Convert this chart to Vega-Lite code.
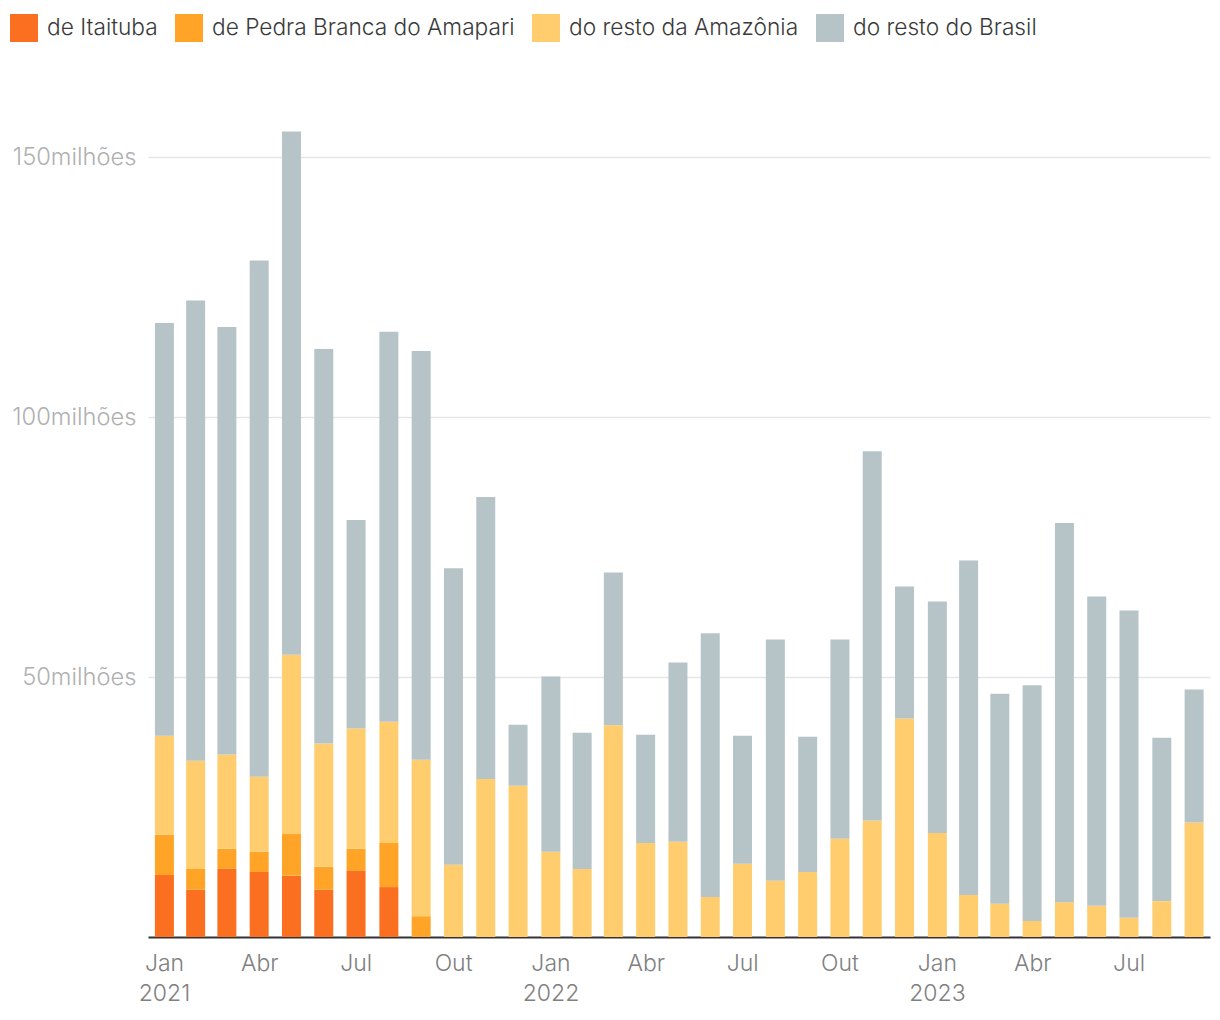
{
  "$schema": "https://vega.github.io/schema/vega-lite/v6.json",
  "width": 1062,
  "height": 832,
  "autosize": {"type": "none"},
  "padding": {"left": 148, "top": 105, "right": 10, "bottom": 83},
  "background": "white",
  "config": {
    "view": {"stroke": null},
    "font": "Inter",
    "axis": {"labelFont": "Inter", "titleFont": "Inter"},
    "legend": {"labelFont": "Inter"}
  },
  "datasets": {
    "ouro": [
      {"mes": "2021-01-01", "origem": "de Itaituba", "valor": 11900000},
      {"mes": "2021-01-01", "origem": "de Pedra Branca do Amapari", "valor": 7800000},
      {"mes": "2021-01-01", "origem": "do resto da Amazônia", "valor": 19000000},
      {"mes": "2021-01-01", "origem": "do resto do Brasil", "valor": 79400000},
      {"mes": "2021-02-01", "origem": "de Itaituba", "valor": 9100000},
      {"mes": "2021-02-01", "origem": "de Pedra Branca do Amapari", "valor": 4000000},
      {"mes": "2021-02-01", "origem": "do resto da Amazônia", "valor": 20800000},
      {"mes": "2021-02-01", "origem": "do resto do Brasil", "valor": 88500000},
      {"mes": "2021-03-01", "origem": "de Itaituba", "valor": 13100000},
      {"mes": "2021-03-01", "origem": "de Pedra Branca do Amapari", "valor": 3900000},
      {"mes": "2021-03-01", "origem": "do resto da Amazônia", "valor": 18100000},
      {"mes": "2021-03-01", "origem": "do resto do Brasil", "valor": 82200000},
      {"mes": "2021-04-01", "origem": "de Itaituba", "valor": 12500000},
      {"mes": "2021-04-01", "origem": "de Pedra Branca do Amapari", "valor": 3900000},
      {"mes": "2021-04-01", "origem": "do resto da Amazônia", "valor": 14400000},
      {"mes": "2021-04-01", "origem": "do resto do Brasil", "valor": 99300000},
      {"mes": "2021-05-01", "origem": "de Itaituba", "valor": 11800000},
      {"mes": "2021-05-01", "origem": "de Pedra Branca do Amapari", "valor": 8000000},
      {"mes": "2021-05-01", "origem": "do resto da Amazônia", "valor": 34500000},
      {"mes": "2021-05-01", "origem": "do resto do Brasil", "valor": 100600000},
      {"mes": "2021-06-01", "origem": "de Itaituba", "valor": 9100000},
      {"mes": "2021-06-01", "origem": "de Pedra Branca do Amapari", "valor": 4400000},
      {"mes": "2021-06-01", "origem": "do resto da Amazônia", "valor": 23700000},
      {"mes": "2021-06-01", "origem": "do resto do Brasil", "valor": 75900000},
      {"mes": "2021-07-01", "origem": "de Itaituba", "valor": 12700000},
      {"mes": "2021-07-01", "origem": "de Pedra Branca do Amapari", "valor": 4300000},
      {"mes": "2021-07-01", "origem": "do resto da Amazônia", "valor": 23100000},
      {"mes": "2021-07-01", "origem": "do resto do Brasil", "valor": 40100000},
      {"mes": "2021-08-01", "origem": "de Itaituba", "valor": 9600000},
      {"mes": "2021-08-01", "origem": "de Pedra Branca do Amapari", "valor": 8500000},
      {"mes": "2021-08-01", "origem": "do resto da Amazônia", "valor": 23300000},
      {"mes": "2021-08-01", "origem": "do resto do Brasil", "valor": 75000000},
      {"mes": "2021-09-01", "origem": "de Pedra Branca do Amapari", "valor": 4000000},
      {"mes": "2021-09-01", "origem": "do resto da Amazônia", "valor": 30100000},
      {"mes": "2021-09-01", "origem": "do resto do Brasil", "valor": 78600000},
      {"mes": "2021-10-01", "origem": "do resto da Amazônia", "valor": 13900000},
      {"mes": "2021-10-01", "origem": "do resto do Brasil", "valor": 57000000},
      {"mes": "2021-11-01", "origem": "do resto da Amazônia", "valor": 30400000},
      {"mes": "2021-11-01", "origem": "do resto do Brasil", "valor": 54200000},
      {"mes": "2021-12-01", "origem": "do resto da Amazônia", "valor": 29100000},
      {"mes": "2021-12-01", "origem": "do resto do Brasil", "valor": 11700000},
      {"mes": "2022-01-01", "origem": "do resto da Amazônia", "valor": 16400000},
      {"mes": "2022-01-01", "origem": "do resto do Brasil", "valor": 33700000},
      {"mes": "2022-02-01", "origem": "do resto da Amazônia", "valor": 13100000},
      {"mes": "2022-02-01", "origem": "do resto do Brasil", "valor": 26200000},
      {"mes": "2022-03-01", "origem": "do resto da Amazônia", "valor": 40700000},
      {"mes": "2022-03-01", "origem": "do resto do Brasil", "valor": 29400000},
      {"mes": "2022-04-01", "origem": "do resto da Amazônia", "valor": 18100000},
      {"mes": "2022-04-01", "origem": "do resto do Brasil", "valor": 20800000},
      {"mes": "2022-05-01", "origem": "do resto da Amazônia", "valor": 18300000},
      {"mes": "2022-05-01", "origem": "do resto do Brasil", "valor": 34500000},
      {"mes": "2022-06-01", "origem": "do resto da Amazônia", "valor": 7700000},
      {"mes": "2022-06-01", "origem": "do resto do Brasil", "valor": 50700000},
      {"mes": "2022-07-01", "origem": "do resto da Amazônia", "valor": 14100000},
      {"mes": "2022-07-01", "origem": "do resto do Brasil", "valor": 24600000},
      {"mes": "2022-08-01", "origem": "do resto da Amazônia", "valor": 10800000},
      {"mes": "2022-08-01", "origem": "do resto do Brasil", "valor": 46400000},
      {"mes": "2022-09-01", "origem": "do resto da Amazônia", "valor": 12500000},
      {"mes": "2022-09-01", "origem": "do resto do Brasil", "valor": 26000000},
      {"mes": "2022-10-01", "origem": "do resto da Amazônia", "valor": 18900000},
      {"mes": "2022-10-01", "origem": "do resto do Brasil", "valor": 38300000},
      {"mes": "2022-11-01", "origem": "do resto da Amazônia", "valor": 22400000},
      {"mes": "2022-11-01", "origem": "do resto do Brasil", "valor": 71000000},
      {"mes": "2022-12-01", "origem": "do resto da Amazônia", "valor": 42000000},
      {"mes": "2022-12-01", "origem": "do resto do Brasil", "valor": 25400000},
      {"mes": "2023-01-01", "origem": "do resto da Amazônia", "valor": 20000000},
      {"mes": "2023-01-01", "origem": "do resto do Brasil", "valor": 44500000},
      {"mes": "2023-02-01", "origem": "do resto da Amazônia", "valor": 8100000},
      {"mes": "2023-02-01", "origem": "do resto do Brasil", "valor": 64300000},
      {"mes": "2023-03-01", "origem": "do resto da Amazônia", "valor": 6400000},
      {"mes": "2023-03-01", "origem": "do resto do Brasil", "valor": 40400000},
      {"mes": "2023-04-01", "origem": "do resto da Amazônia", "valor": 3100000},
      {"mes": "2023-04-01", "origem": "do resto do Brasil", "valor": 45300000},
      {"mes": "2023-05-01", "origem": "do resto da Amazônia", "valor": 6700000},
      {"mes": "2023-05-01", "origem": "do resto do Brasil", "valor": 72900000},
      {"mes": "2023-06-01", "origem": "do resto da Amazônia", "valor": 6000000},
      {"mes": "2023-06-01", "origem": "do resto do Brasil", "valor": 59500000},
      {"mes": "2023-07-01", "origem": "do resto da Amazônia", "valor": 3700000},
      {"mes": "2023-07-01", "origem": "do resto do Brasil", "valor": 59100000},
      {"mes": "2023-08-01", "origem": "do resto da Amazônia", "valor": 6900000},
      {"mes": "2023-08-01", "origem": "do resto do Brasil", "valor": 31400000},
      {"mes": "2023-09-01", "origem": "do resto da Amazônia", "valor": 22000000},
      {"mes": "2023-09-01", "origem": "do resto do Brasil", "valor": 25600000}
    ]
  },
  "data": {"name": "ouro"},
  "mark": {"type": "bar", "width": 19},
  "encoding": {
    "x": {
      "field": "mes",
      "timeUnit": "utcyearmonth",
      "type": "temporal",
      "bandPosition": 0.5,
      "title": null,
      "scale": {
        "type": "utc",
        "domain": [
          {"year": 2021, "month": 1, "date": 1, "utc": true},
          {"year": 2023, "month": 10, "date": 1, "utc": true}
        ]
      },
      "axis": {
        "values": [
          {"year": 2021, "month": 1, "date": 1, "utc": true},
          {"year": 2021, "month": 4, "date": 1, "utc": true},
          {"year": 2021, "month": 7, "date": 1, "utc": true},
          {"year": 2021, "month": 10, "date": 1, "utc": true},
          {"year": 2022, "month": 1, "date": 1, "utc": true},
          {"year": 2022, "month": 4, "date": 1, "utc": true},
          {"year": 2022, "month": 7, "date": 1, "utc": true},
          {"year": 2022, "month": 10, "date": 1, "utc": true},
          {"year": 2023, "month": 1, "date": 1, "utc": true},
          {"year": 2023, "month": 4, "date": 1, "utc": true},
          {"year": 2023, "month": 7, "date": 1, "utc": true}
        ],
        "labelExpr": "utcmonth(datum.value) == 0 ? [['Jan','Fev','Mar','Abr','Mai','Jun','Jul','Ago','Set','Out','Nov','Dez'][utcmonth(datum.value)], '' + utcyear(datum.value)] : ['Jan','Fev','Mar','Abr','Mai','Jun','Jul','Ago','Set','Out','Nov','Dez'][utcmonth(datum.value)]",
        "labelOffset": 16,
        "labelFontSize": 23,
        "labelFontWeight": 300,
        "labelColor": "#808080",
        "labelLineHeight": 30,
        "labelPadding": 15,
        "labelAlign": "center",
        "labelBaseline": "top",
        "ticks": false,
        "grid": false,
        "domainColor": "#333333",
        "domainWidth": 2,
        "labelFlush": false,
        "labelOverlap": false
      }
    },
    "y": {
      "field": "valor",
      "type": "quantitative",
      "aggregate": "sum",
      "stack": "zero",
      "title": null,
      "scale": {"domain": [0, 160000000], "nice": false},
      "axis": {
        "values": [50000000, 100000000, 150000000],
        "labelExpr": "(datum.value / 1000000) + 'milhões'",
        "labelFontSize": 23.7,
        "labelFontWeight": 300,
        "labelColor": "#b0b0b0",
        "labelPadding": 12,
        "domain": false,
        "ticks": false,
        "grid": true,
        "gridColor": "#e6e6e6",
        "gridWidth": 1.5
      }
    },
    "color": {
      "field": "origem",
      "type": "nominal",
      "title": null,
      "scale": {
        "domain": ["de Itaituba", "de Pedra Branca do Amapari", "do resto da Amazônia", "do resto do Brasil"],
        "range": ["#fb6f20", "#ffa427", "#ffcd6e", "#b7c4c7"]
      },
      "legend": {
        "orient": "none",
        "legendX": -138,
        "legendY": -91,
        "direction": "horizontal",
        "symbolType": "square",
        "symbolSize": 784,
        "symbolStrokeWidth": 0,
        "symbolOpacity": 1,
        "labelFontSize": 22.7,
        "labelFontWeight": 300,
        "labelLimit": 0,
        "labelColor": "#3a3a3a",
        "labelOffset": 9,
        "columnPadding": 17,
        "padding": 0
      }
    },
    "order": {"field": "origem", "type": "nominal", "sort": "ascending"}
  }
}
